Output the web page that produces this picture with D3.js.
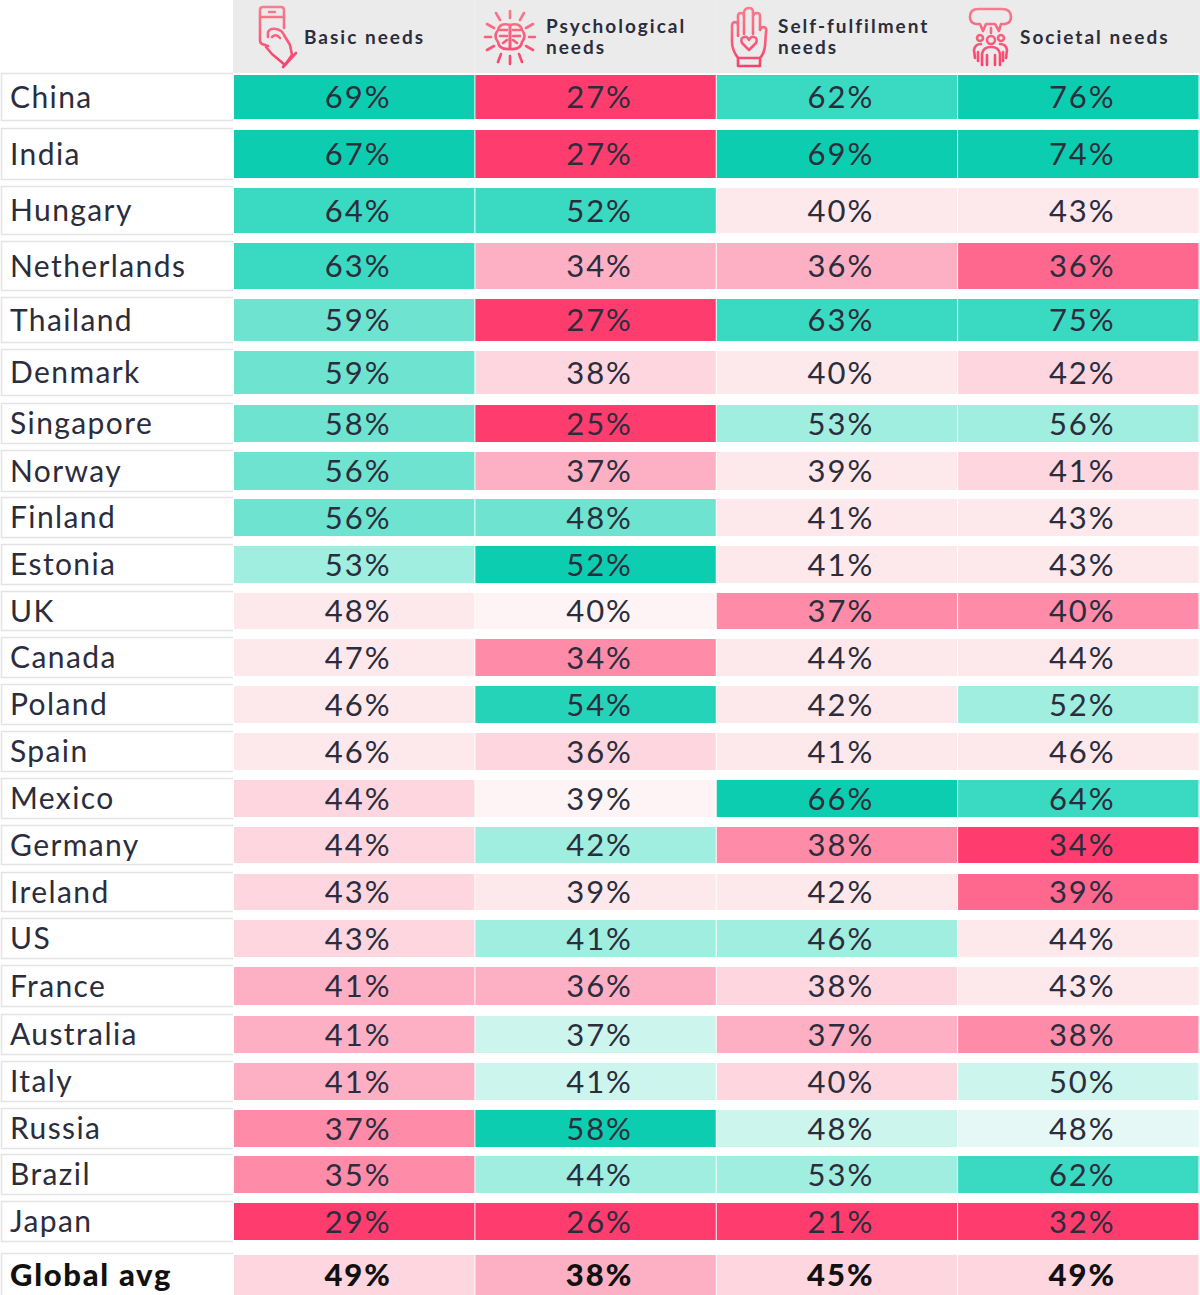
<!DOCTYPE html>
<html>
<head>
<meta charset="utf-8">
<script src="https://cdnjs.cloudflare.com/ajax/libs/d3/7.8.5/d3.min.js"></script>
<style>
  html, body { margin: 0; padding: 0; background: #fff; }
  svg { display: block; font-family: Lato, sans-serif; }
</style>
</head>
<body>
<div id="chart"></div>
<script>
const countries = ["China", "India", "Hungary", "Netherlands", "Thailand", "Denmark", "Singapore", "Norway", "Finland", "Estonia", "UK", "Canada", "Poland", "Spain", "Mexico", "Germany", "Ireland", "US", "France", "Australia", "Italy", "Russia", "Brazil", "Japan", "Global avg"];
const needs = ["Basic needs", "Psychological needs", "Self-fulfilment needs", "Societal needs"];

const basicNeeds = [69, 67, 64, 63, 59, 59, 58, 56, 56, 53, 48, 47, 46, 46, 44, 44, 43, 43, 41, 41, 41, 37, 35, 29, 49];
const psychologicalNeeds = [27, 27, 52, 34, 27, 38, 25, 37, 48, 52, 40, 34, 54, 36, 39, 42, 39, 41, 36, 37, 41, 58, 44, 26, 38];
const selfFulfilmentNeeds = [62, 69, 40, 36, 63, 40, 53, 39, 41, 41, 37, 44, 42, 41, 66, 38, 42, 46, 38, 37, 40, 48, 53, 21, 45];
const societalNeeds = [76, 74, 43, 36, 75, 42, 56, 41, 43, 43, 40, 44, 52, 46, 64, 34, 39, 44, 43, 38, 50, 48, 62, 32, 49];

// shade of each cell, -6 strong pink .. 6 strong green
const basicShades = [6, 6, 4, 4, 3, 3, 3, 3, 3, 2, -1, -1, -1, -1, -2, -2, -2, -2, -3, -3, -3, -4, -4, -6, -2];
const psychologicalShades = [-6, -6, 4, -3, -6, -2, -6, -3, 3, 6, 0, -4, 5, -2, 0, 2, -1, 2, -3, 1, 1, 6, 2, -6, -3];
const selfFulfilmentShades = [4, 6, -1, -3, 4, -1, 2, -1, -1, -1, -4, -1, -1, -1, 6, -4, -1, 2, -2, -3, -2, 1, 2, -6, -2];
const societalShades = [6, 6, -1, -5, 4, -2, 2, -2, -1, -1, -4, -1, 2, -1, 4, -6, -5, -1, -1, -4, 1, 0.5, 4, -6, -2];

const shadeLevels = [-6, -5, -4, -3, -2, -1, 0, 0.5, 1, 2, 3, 4, 5, 6];
const shadeColors = ["#fe3d6e", "#fe678e", "#fe8ba8", "#fdb0c4", "#fdd6df", "#fde8ec", "#fef4f5", "#e6f8f5", "#ccf5ee", "#9feee0", "#6ee3d0", "#3ad9c1", "#25d3b9", "#0dcdb0"];

// rows in the table are not evenly spaced
const rowTops = [75, 130, 188, 243, 299, 351, 405, 452, 499, 546, 593, 639, 686, 733, 780, 827, 874, 920, 967, 1016, 1063, 1110, 1156, 1203, 1255];
const rowHeights = [44, 48, 45, 46, 42, 43, 37, 38, 37, 37, 36, 37, 37, 37, 37, 36, 36, 37, 38, 37, 37, 37, 37, 37, 40];

const width = 1200, height = 1295;
const ink = "#2b2d3c";

const x = d3.scaleBand().domain(needs).range([234, 1198.5]).paddingInner(0.004);
const rowTop = d3.scaleOrdinal().domain(countries).range(rowTops);
const rowH = d3.scaleOrdinal().domain(countries).range(rowHeights);
const color = d3.scaleOrdinal().domain(shadeLevels).range(shadeColors);

const columns = [
  { need: needs[0], values: basicNeeds, shades: basicShades },
  { need: needs[1], values: psychologicalNeeds, shades: psychologicalShades },
  { need: needs[2], values: selfFulfilmentNeeds, shades: selfFulfilmentShades },
  { need: needs[3], values: societalNeeds, shades: societalShades }
];
const cells = columns.flatMap(c => countries.map((country, i) => ({
  need: c.need, country, value: c.values[i], shade: c.shades[i]
})));

const svg = d3.select("#chart").append("svg")
  .attr("width", width).attr("height", height).attr("viewBox", [0, 0, width, height]);

const defs = svg.append("defs");
const grad = defs.append("linearGradient").attr("id", "iconGrad")
  .attr("gradientUnits", "userSpaceOnUse")
  .attr("x1", 0).attr("y1", 5).attr("x2", 0).attr("y2", 68);
grad.append("stop").attr("offset", "0%").attr("stop-color", "#f8808f");
grad.append("stop").attr("offset", "100%").attr("stop-color", "#fb3f6c");

// header
svg.append("g").selectAll("rect").data(needs).join("rect")
  .attr("x", d => x(d) - 1).attr("y", 0)
  .attr("width", x.bandwidth() + 1).attr("height", 73)
  .attr("fill", "#ebebeb");
svg.append("rect").attr("x", 1197).attr("y", 0).attr("width", 3).attr("height", 73).attr("fill", "#ebebeb");

const headerLines = [["Basic needs"], ["Psychological", "needs"], ["Self-fulfilment", "needs"], ["Societal needs"]];
const headerLeft = [304, 546, 778, 1020];
svg.append("g").selectAll("text").data(needs).join("text")
  .attr("x", (d, i) => headerLeft[i])
  .attr("y", (d, i) => headerLines[i].length > 1 ? 33 : 44)
  .attr("font-size", 19).attr("font-weight", 700)
  .attr("letter-spacing", 2).attr("fill", ink)
  .each(function (d, i) {
    d3.select(this).selectAll("tspan").data(headerLines[i]).join("tspan")
      .attr("x", headerLeft[i]).attr("dy", (l, j) => j ? 21 : 0).text(l => l);
  });

// country label cells: top, bottom and left rules only
const labels = svg.append("g").selectAll("g").data(countries).join("g")
  .attr("transform", d => `translate(0,${rowTop(d)})`);
labels.append("path")
  .attr("d", d => `M233 -1.5 H1.5 V${rowH(d) + 1.5} H233`)
  .attr("fill", "none").attr("stroke", "#e2e4e6").attr("stroke-width", 1.5);
labels.append("text")
  .attr("x", 10).attr("y", d => rowH(d) / 2)
  .attr("dy", "0.36em")
  .attr("font-size", d => d === "Global avg" ? 31 : 30)
  .attr("font-weight", d => d === "Global avg" ? 900 : 400)
  .attr("letter-spacing", d => d === "Global avg" ? 1.7 : 1.4)
  .attr("fill", d => d === "Global avg" ? "#111" : ink)
  .text(d => d);

// value cells, figures sit a little right of centre
const cell = svg.append("g").selectAll("g").data(cells).join("g")
  .attr("transform", d => `translate(${x(d.need)},${rowTop(d.country)})`);
cell.append("rect")
  .attr("width", x.bandwidth()).attr("height", d => rowH(d.country))
  .attr("fill", d => color(d.shade));
cell.append("text")
  .attr("x", x.bandwidth() / 2 + 4).attr("y", d => rowH(d.country) / 2)
  .attr("dy", "0.36em").attr("text-anchor", "middle")
  .attr("font-size", 31)
  .attr("font-weight", d => d.country === "Global avg" ? 900 : 400)
  .attr("letter-spacing", 2)
  .attr("fill", d => d.country === "Global avg" ? "#111" : ink)
  .text(d => d.value + "%");

// header icons
const iconStyle = g => g.attr("fill", "none").attr("stroke", "url(#iconGrad)")
  .attr("stroke-width", 2.6).attr("stroke-linecap", "round").attr("stroke-linejoin", "round");

// phone + hand
svg.append("g").call(iconStyle).selectAll("path").data([
  "M268 46 L262 44 Q260 43 260 40 L260 10 Q260 7 263 7 L281 7 Q284 7 284 10 L284 28",
  "M261 17 L283 17",
  "M269 12 L275 12",
  "M268 37 L268 32 Q270 28 276 29 Q282 30 284 35 L290 45 L292 55 L285 65 L272 54 L266 47",
  "M272 37 Q276 33 280 38",
  "M283 67 L296 53"
]).join("path").attr("d", d => d);

// brain + rays
svg.append("g").call(iconStyle).selectAll("path").data([
  "M510 25 Q500 22 498 30 Q493 36 498 42 Q499 50 510 49 Z",
  "M510 25 Q520 22 522 30 Q527 36 522 42 Q521 50 510 49 Z",
  "M500 30 L507 30 M500 36 L507 36 M503 43 L507 40 M520 30 L513 30 M520 36 L513 36 M517 43 L513 40",
  "M510 11 L510 18 M496 13 L500 20 M524 13 L520 20 M487 24 L494 28 M533 24 L526 28 M485 37 L491 37 M535 37 L529 37 M487 50 L494 46 M533 50 L526 46 M498 62 L501 54 M522 62 L519 54 M510 64 L510 56"
]).join("path").attr("d", d => d);

// raised hand with heart
svg.append("g").call(iconStyle).selectAll("path").data([
  "M738 66 L738 58 Q732 50 732 42 L732 26 Q732 22 735 22 Q738 22 738 26 L738 36 L738 16 Q738 13 741 13 Q744 13 744 16 L744 12 Q745 8 749 8 Q753 8 753 12 L753 16 Q754 13 757 13 Q760 13 760 16 L760 30 Q761 27 764 27 Q767 28 766 32 L765 46 Q764 54 760 58 L760 66 Z",
  "M744 16 L744 34 M753 16 L753 34 M738 58 L760 58",
  "M749 50 L742 43 Q740 38 744 37 Q747 36 749 40 Q751 36 754 37 Q758 38 756 43 Z"
]).join("path").attr("d", d => d);

// group under a speech cloud
svg.append("g").call(iconStyle).selectAll("path").data([
  "M978 9 L1002 9 Q1011 9 1011 17 Q1011 23 1005 24 L1001 24 L999 31 L995 24 L986 24 L983 31 L980 24 L976 24 Q970 23 970 17 Q970 9 978 9 Z",
  "M991 28 L991 33",
  "M980 38 m-3 0 a3 3 0 1 0 6 0 a3 3 0 1 0 -6 0",
  "M1001 38 m-3 0 a3 3 0 1 0 6 0 a3 3 0 1 0 -6 0",
  "M991 40 m-4 0 a4 4 0 1 0 8 0 a4 4 0 1 0 -8 0",
  "M975 58 L974 50 Q975 44 981 44 M1006 58 L1007 50 Q1006 44 1000 44",
  "M982 65 L982 54 Q983 47 991 47 Q999 47 1000 54 L1000 65",
  "M987 65 L987 55 M995 65 L995 55 M978 61 L978 52 M1003 61 L1003 52"
]).join("path").attr("d", d => d);
</script>
</body>
</html>
